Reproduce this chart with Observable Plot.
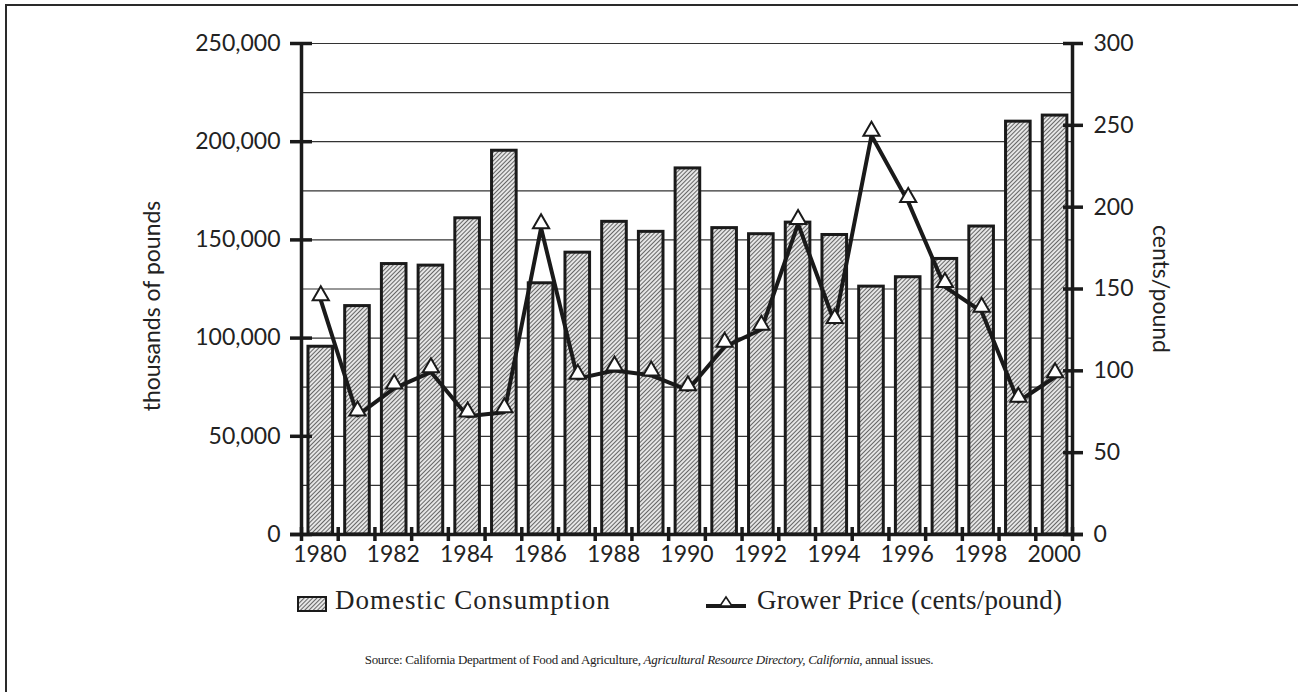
<!DOCTYPE html>
<html>
<head>
<meta charset="utf-8">
<script src="https://cdn.jsdelivr.net/npm/d3@7"></script>
<script src="https://cdn.jsdelivr.net/npm/@observablehq/plot@0.6"></script>
<style>
  html, body { margin: 0; padding: 0; background: #fff; }
  body { width: 1298px; height: 692px; overflow: hidden; position: relative; color: #222; }
  #frame { position: absolute; left: 5px; top: 4px; width: 1400px; height: 800px;
           border-left: 2.5px solid #2a2a2a; border-top: 2.5px solid #2a2a2a; }
  #chart { position: absolute; left: 0; top: 0; }
  .leg { position: absolute; font-family: "Liberation Serif", serif; font-size: 27px; white-space: nowrap; color: #222; }
  #source { position: absolute; left: 0; width: 1298px; top: 652px; text-align: center;
            font-family: "Liberation Serif", serif; font-size: 13px; color: #222; letter-spacing: -0.3px; }
</style>
</head>
<body>
<div id="frame"></div>
<div id="chart"></div>
<svg class="leg" style="left:297px;top:596px" width="30" height="16">
  <defs>
    <pattern id="hatchLeg" patternUnits="userSpaceOnUse" width="3" height="3" patternTransform="rotate(45)">
      <rect width="3" height="3" fill="#e6e6e6"></rect>
      <line x1="0.5" y1="0" x2="0.5" y2="3" stroke="#666" stroke-width="1"></line>
    </pattern>
  </defs>
  <rect x="1" y="1" width="28" height="14" fill="url(#hatchLeg)" stroke="#1a1a1a" stroke-width="2"></rect>
</svg>
<div class="leg" id="leg1" style="left:335px;top:585px;letter-spacing:1px">Domestic Consumption</div>
<svg class="leg" style="left:705px;top:593px" width="42" height="20">
  <line x1="1" y1="13" x2="41" y2="13" stroke="#1a1a1a" stroke-width="4"></line>
  <path d="M21,4 L27,13 L15,13 Z" fill="#fff" stroke="#1a1a1a" stroke-width="1.6"></path>
</svg>
<div class="leg" id="leg2" style="left:757px;top:585px;letter-spacing:0.2px">Grower Price (cents/pound)</div>
<div id="source">Source: California Department of Food and Agriculture, <i>Agricultural Resource Directory, California</i>, annual issues.</div>

<script>
// ---- data ----
const years = [1980, 1981, 1982, 1983, 1984, 1985, 1986, 1987, 1988, 1989, 1990,
               1991, 1992, 1993, 1994, 1995, 1996, 1997, 1998, 1999, 2000];
const consumption = [95600, 116300, 137700, 136900, 161000, 195400, 127900, 143500, 159200, 154100, 186400,
                     156000, 152900, 158800, 152500, 126200, 131000, 140300, 156800, 210200, 213300];
const growerPrice = [146, 75.5, 92, 102, 75, 77.5, 190, 98, 103, 100, 91,
                     117.5, 128, 192.5, 132, 246.5, 206, 154, 139, 84, 99];
const leftTicks = [0, 50000, 100000, 150000, 200000, 250000];
const rightTicks = [0, 50, 100, 150, 200, 250, 300];
const gridValues = [25000, 50000, 75000, 100000, 125000, 150000, 175000, 200000, 225000, 250000];
const labelYears = [1980, 1982, 1984, 1986, 1988, 1990, 1992, 1994, 1996, 1998, 2000];

const leftMax = 250000, rightMax = 300;
const k = leftMax / rightMax;
const rows = years.map((year, i) => ({year, cons: consumption[i], price: growerPrice[i]}));
const edges = years.concat([years[years.length - 1] + 1]);
const ink = "#1a1a1a";

const chart = Plot.plot({
  width: 1298, height: 575,
  marginLeft: 301, marginRight: 226, marginTop: 43, marginBottom: 41,
  style: {fontFamily: "Lato, 'Open Sans', sans-serif", fontSize: "23px", color: "#222", background: "transparent"},
  x: {domain: [years[0], years[years.length - 1] + 1]},
  y: {domain: [0, leftMax]},
  marks: [
    Plot.ruleY(gridValues, {stroke: "#333", strokeWidth: 1.2}),
    Plot.rectY(rows, {x1: d => d.year + 0.19, x2: d => d.year + 0.86, y1: 0, y2: "cons",
                      fill: "url(#hatch)", stroke: ink, strokeWidth: 3}),
    Plot.ruleX([edges[0], edges[edges.length - 1]], {stroke: ink, strokeWidth: 3.5}),
    Plot.ruleY([0], {stroke: ink, strokeWidth: 3.5, insetLeft: -11, insetRight: -11}),
    Plot.axisY({ticks: leftTicks, tickFormat: d3.format(","), tickSize: 22, dx: 11, tickPadding: 10,
                strokeWidth: 3.5, stroke: ink, label: null}),
    Plot.axisY({anchor: "right", ticks: rightTicks.map(v => v * k), tickFormat: d => String(Math.round(d / k)),
                tickSize: 20, dx: -10, tickPadding: 11, strokeWidth: 3.5, stroke: ink, label: null}),
    Plot.axisX({ticks: edges, tickFormat: () => "", tickSize: 14, dy: -7, strokeWidth: 3.5, stroke: ink, label: null}),
    Plot.axisX({ticks: labelYears.map(y => y + 0.5), tickFormat: d => String(d - 0.5), tickSize: 0,
                tickPadding: 11, label: null}),
    Plot.line(rows, {x: d => d.year + 0.525, y: d => d.price * k, stroke: ink, strokeWidth: 4, dy: 4.5}),
    Plot.dot(rows, {x: d => d.year + 0.525, y: d => d.price * k, symbol: "triangle", r: 6,
                    fill: "white", stroke: ink, strokeWidth: 2}),
    Plot.text(["thousands of pounds"], {frameAnchor: "left", dx: -149, dy: 17, rotate: -90,
                                        textAnchor: "middle", fontSize: 23, fill: "#222"}),
    Plot.text(["cents/pound"], {frameAnchor: "right", dx: 88, rotate: 90, textAnchor: "middle",
                                fontSize: 23, fill: "#222"})
  ]
});

const svg = d3.select(chart);
const defs = svg.insert("defs", ":first-child");
const pat = defs.append("pattern").attr("id", "hatch").attr("patternUnits", "userSpaceOnUse")
  .attr("width", 3).attr("height", 3).attr("patternTransform", "rotate(45)");
pat.append("rect").attr("width", 3).attr("height", 3).attr("fill", "#e6e6e6");
pat.append("line").attr("x1", 0.5).attr("y1", 0).attr("x2", 0.5).attr("y2", 3)
  .attr("stroke", "#666").attr("stroke-width", 1);

document.getElementById("chart").appendChild(chart);
</script>
</body>
</html>
